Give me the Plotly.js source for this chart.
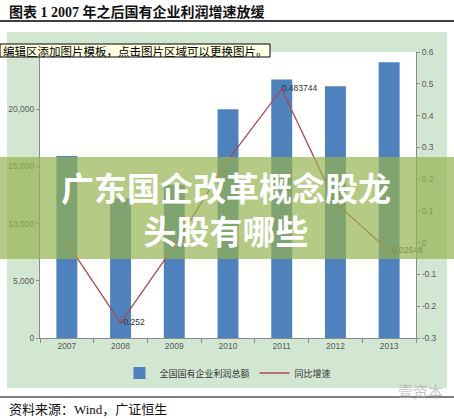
<!DOCTYPE html>
<html><head><meta charset="utf-8">
<script src="https://cdn.plot.ly/plotly-3.0.1.min.js"></script>
<style>html,body{margin:0;padding:0;background:#fff;}#chart{width:454px;height:419px;}</style>
</head><body><div id="chart"></div>
<script>
const years = ['2007','2008','2009','2010','2011','2012','2013'];
const profitTotal = [15900, 12200, 13400, 20000, 22600, 22000, 24100];
const growthRate = [0.0, -0.252, -0.01, 0.26, 0.483744, 0.126, -0.02648];
const growthLabels = ['', '-0.252', '', '', '0.483744', '', '-0.02648'];
const leftTickVals = [0, 5000, 10000, 15000, 20000];
const leftTickText = ['0', '5,000', '10,000', '15,000', '20,000'];
const rightTickVals = [-0.3, -0.2, -0.1, 0, 0.1, 0.2, 0.3, 0.4, 0.5, 0.6];
const rightTickText = ['-0.3', '-0.2', '-0.1', '0', '0.1', '0.2', '0.3', '0.4', '0.5', '0.6'];
const seriesNames = ['全国国有企业利润总额', '同比增速'];
const chartTitle = '图表 1 2007 年之后国有企业利润增速放缓';
const sourceText = '资料来源：Wind，广证恒生';
const tipText = '编辑区添加图片模板，点击图片区域可以更换图片。';
const overlayText = '广东国企改革概念股龙<br>头股有哪些';
const watermark = '壹资本';

// page pixel -> paper coords (plot area x 40..416, y 52..338)
const px = x => (x - 40) / 376;
const py = y => (338 - y) / 286;

const tickFont = {family: 'Liberation Sans, Arial, sans-serif', size: 8.5, color: '#595959'};
const axisGray = '#8c8c8c';

const traces = [
  {type: 'bar', x: years, y: profitTotal, name: seriesNames[0],
   marker: {color: '#4f81bd'}, yaxis: 'y'},
  {type: 'scatter', mode: 'lines+text', x: years, y: growthRate, name: seriesNames[1],
   yaxis: 'y2', line: {color: '#a94a50', width: 1.3},
   text: growthLabels, textposition: 'middle right', cliponaxis: false,
   textfont: {family: 'Liberation Sans, Arial, sans-serif', size: 8.5, color: '#333'}}
];

const layout = {
  width: 454, height: 419,
  margin: {l: 40, r: 38, t: 52, b: 81},
  paper_bgcolor: '#ffffff', plot_bgcolor: '#ffffff',
  font: {family: 'Noto Sans CJK SC, sans-serif'},
  hovermode: false,
  bargap: 0.61,
  showlegend: true,
  legend: {orientation: 'h', x: 0.5, xanchor: 'center', y: py(373), yanchor: 'middle',
    bgcolor: 'rgba(0,0,0,0)', itemwidth: 30,
    font: {family: 'Noto Sans CJK SC, sans-serif', size: 9, color: '#333'}},
  xaxis: {type: 'category', showline: true, linecolor: axisGray, linewidth: 1,
    ticks: 'outside', tickson: 'boundaries', ticklen: 4, tickcolor: axisGray,
    tickfont: tickFont, showgrid: false, zeroline: false},
  yaxis: {range: [0, 25000], tickvals: leftTickVals, ticktext: leftTickText,
    showline: true, linecolor: axisGray, ticks: 'outside', ticklen: 3, tickcolor: axisGray,
    tickfont: tickFont, showgrid: false, zeroline: false},
  yaxis2: {overlaying: 'y', side: 'right', range: [-0.3, 0.6],
    tickvals: rightTickVals, ticktext: rightTickText,
    showline: true, linecolor: axisGray, ticks: 'outside', ticklen: 3, tickcolor: axisGray,
    tickfont: tickFont, showgrid: false, zeroline: false},
  shapes: [
    {type: 'rect', xref: 'paper', yref: 'paper', x0: px(7), x1: px(447), y0: py(388), y1: py(32),
     fillcolor: '#d1e7d2', line: {width: 0}, layer: 'below'},
    {type: 'rect', xref: 'paper', yref: 'paper', x0: px(40), x1: px(416), y0: py(338), y1: py(52),
     fillcolor: '#ffffff', line: {width: 0}, layer: 'below'},
    {type: 'line', xref: 'paper', yref: 'paper', x0: px(0), x1: px(454), y0: py(21), y1: py(21),
     line: {color: '#000', width: 1.5}, layer: 'above'},
    {type: 'line', xref: 'paper', yref: 'paper', x0: px(0), x1: px(454), y0: py(397), y1: py(397),
     line: {color: '#000', width: 1.2}, layer: 'above'},
    {type: 'rect', xref: 'paper', yref: 'paper', x0: px(0), x1: px(454), y0: py(259), y1: py(157),
     fillcolor: 'rgba(150,180,80,0.7)', line: {width: 0}, layer: 'above'},
    {type: 'rect', xref: 'paper', yref: 'paper', x0: px(0), x1: px(270), y0: py(57), y1: py(44),
     fillcolor: '#ffffe1', line: {color: '#000', width: 1}, layer: 'above'}
  ],
  annotations: [
    {xref: 'paper', yref: 'paper', x: px(7), y: py(12), xanchor: 'left', yanchor: 'middle',
     text: '<b>' + chartTitle + '</b>', showarrow: false,
     font: {family: 'Liberation Serif, Noto Sans CJK SC, serif', size: 14, color: '#111'}},
    {xref: 'paper', yref: 'paper', x: px(1), y: py(50.5), xanchor: 'left', yanchor: 'middle',
     text: tipText, showarrow: false,
     font: {family: 'Noto Sans CJK SC, sans-serif', size: 11.5, color: '#000'}},
    {xref: 'paper', yref: 'paper', x: px(226), y: py(208), xanchor: 'center', yanchor: 'middle',
     text: '<b>' + overlayText + '</b>', showarrow: false, align: 'center',
     font: {family: 'Noto Sans CJK SC, sans-serif', size: 33, color: '#ffffff'}},
    {xref: 'paper', yref: 'paper', x: px(7), y: py(409), xanchor: 'left', yanchor: 'middle',
     text: sourceText, showarrow: false,
     font: {family: 'Liberation Serif, Noto Sans CJK SC, serif', size: 13, color: '#111'}},
    {xref: 'paper', yref: 'paper', x: px(445), y: py(390), xanchor: 'right', yanchor: 'middle',
     text: watermark, showarrow: false,
     font: {family: 'Noto Sans CJK SC, sans-serif', size: 15, color: 'rgba(170,170,170,0.7)'}}
  ]
};

Plotly.newPlot('chart', traces, layout, {displayModeBar: false, staticPlot: true});
</script>
</body></html>
